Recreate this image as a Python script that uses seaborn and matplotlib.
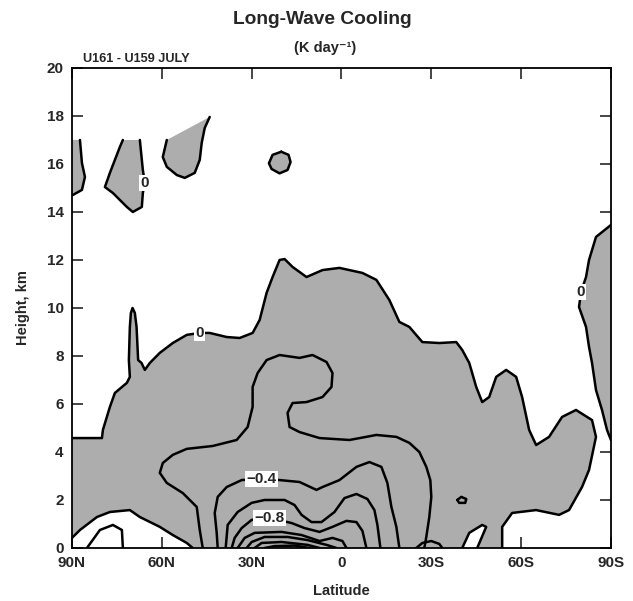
import numpy as np
import matplotlib
matplotlib.use("Agg")
import matplotlib.pyplot as plt
import seaborn as sns

# zero contour, main shaded body (upper edge, then the small white tongue, then the white lobe at bottom left)
zero_main_lat = [90, 80.0, 79.67, 77.33, 75.67, 71.67, 70.67, 71.0, 70.67, 70.33, 69.77, 69.0, 68.43, 67.9,
                 66.77, 65.67, 64.0, 60.67, 56.33, 51.67, 47.33, 44.0, 38.33, 34.0, 29.67, 27.33, 25.0, 23.0,
                 20.67, 19.0, 16.33, 11.67, 6.33, 0.67, -7.0, -11.67, -16.0, -19.33, -22.67, -27.0, -32.67,
                 -38.33, -40.33, -42.67, -45.0, -47.0, -49.33, -51.67, -55.0, -58.33, -60.33, -62.67, -65.0,
                 -69.33, -73.67, -78.33, -83.67, -85.0, -82.67, -80.33, -76.0, -72.67, -65.0, -57.0, -53.67, -53.67]
zero_main_z = [4.58, 4.58, 4.92, 5.88, 6.46, 6.88, 7.13, 7.83, 9.21, 9.79, 10.0, 9.79, 9.21, 7.83,
               7.71, 7.42, 7.71, 8.13, 8.54, 8.88, 8.96, 8.96, 8.79, 8.75, 8.96, 9.5, 10.63, 11.29,
               12.0, 12.04, 11.71, 11.29, 11.58, 11.67, 11.46, 11.17, 10.33, 9.42, 9.21, 8.58, 8.54,
               8.58, 8.25, 7.71, 6.71, 6.08, 6.29, 7.13, 7.42, 7.13, 6.29, 4.92, 4.29,
               4.63, 5.46, 5.75, 5.33, 4.63, 3.25, 2.54, 1.58, 1.38, 1.58, 1.46, 0.88, 0.0]
zero_tongue_lat = [-45.33, -48.33, -47.0, -42.67, -40.33]
zero_tongue_z = [0.0, 0.88, 0.96, 0.63, 0.0]
zero_lobe_lat = [49.67, 51.67, 56.33, 60.67, 67.33, 70.67, 77.33, 81.67, 87.33, 90]
zero_lobe_z = [0.0, 0.21, 0.54, 0.88, 1.29, 1.58, 1.5, 1.29, 0.75, 0.42]

# zero contour, strip at the south pole
zero_sp_lat = [-90, -85.0, -82.67, -81.67, -80.0, -79.33, -81.67, -82.67, -83.67, -85.0, -87.0, -88.67, -90]
zero_sp_z = [13.46, 12.96, 12.0, 11.29, 10.67, 10.04, 9.21, 8.38, 7.71, 6.58, 5.75, 4.92, 4.5]

# upper isolated patches
p1_lat = [87.33, 86.67, 85.67, 86.67, 89.67, 90]
p1_z = [17.0, 16.04, 15.46, 14.92, 14.71, 14.7]
p2_lat = [73.0, 74.0, 75.67, 77.33, 79.0, 76.33, 71.67, 69.67, 66.67, 66.33, 65.67, 66.33, 66.67, 67.33]
p2_z = [17.0, 16.71, 16.17, 15.63, 15.04, 14.79, 14.21, 14.0, 14.21, 14.79, 15.21, 15.75, 16.17, 17.0]
p3_lat = [58.33, 59.67, 58.33, 55.0, 52.33, 49.0, 47.33, 46.67, 45.67, 44.0]
p3_z = [17.0, 16.29, 15.88, 15.54, 15.42, 15.63, 16.17, 16.88, 17.5, 17.96]
p4_lat = [20.1, 17.67, 17.0, 18.0, 20.67, 23.33, 24.23, 23.0, 20.1]
p4_z = [16.51, 16.38, 16.08, 15.75, 15.61, 15.79, 16.03, 16.38, 16.51]

# negative contours (K/day)
m02_lat = [46.33, 47.33, 48.33, 53.0, 58.33, 60.67, 59.67, 56.33, 51.67, 43.0, 35.0, 31.33, 29.67, 29.67,
           28.0, 25.0, 20.67, 14.0, 9.67, 5.0, 3.0, 3.33, 6.33, 11.67, 16.33, 18.0, 17.33, 14.0, 7.33,
           -2.67, -11.67, -18.33, -22.67, -26.0, -28.33, -29.67, -30.0, -29.33, -28.33, -27.67]
m02_z = [0.0, 0.75, 1.71, 2.29, 2.71, 3.13, 3.54, 3.88, 4.13, 4.25, 4.5, 5.04, 5.88, 6.71,
         7.29, 7.83, 8.04, 7.92, 8.04, 7.75, 7.29, 6.71, 6.29, 6.08, 6.04, 5.63, 5.04, 4.83, 4.58,
         4.5, 4.71, 4.63, 4.38, 4.0, 3.38, 2.83, 2.13, 1.29, 0.46, 0.0]
m04_lat = [41.33, 41.67, 42.33, 41.33, 38.33, 33.33, 26.67, 20.67, 14.0, 8.33, 6.33, 0.67, -5.0, -9.33,
           -13.33, -15.33, -16.67, -18.33, -19.33]
m04_z = [0.0, 0.63, 1.46, 2.13, 2.54, 2.83, 2.88, 2.83, 2.75, 2.42, 2.54, 2.83, 3.38, 3.58,
         3.38, 2.71, 1.71, 0.88, 0.0]
m06_lat = [38.67, 38.0, 34.67, 30.0, 25.67, 19.0, 15.67, 13.33, 10.0, 6.67, 2.33, -1.0, -5.0, -8.67,
           -11.0, -12.0, -13.0]
m06_z = [0.0, 0.96, 1.5, 1.88, 2.0, 2.0, 1.79, 1.38, 1.08, 1.08, 1.5, 2.08, 2.25, 2.04,
         1.58, 0.96, 0.0]
m08_lat = [36.67, 35.67, 33.33, 30.0, 24.0, 16.67, 12.33, 7.33, 3.0, -1.67, -5.0, -7.0, -8.33]
m08_z = [0.0, 0.42, 0.83, 1.17, 1.25, 1.04, 0.83, 0.67, 0.88, 1.13, 1.08, 0.71, 0.0]
m10_lat = [34.67, 32.33, 29.0, 20.0, 13.33, 7.33, 3.0, -0.33, -1.67]
m10_z = [0.0, 0.42, 0.63, 0.67, 0.54, 0.29, 0.42, 0.29, 0.0]
m12_lat = [31.67, 30.0, 25.67, 18.0, 11.33, 5.0, 1.67]
m12_z = [0.0, 0.25, 0.46, 0.46, 0.33, 0.13, 0.0]
m14_lat = [29.0, 26.67, 20.0, 11.33, 7.33]
m14_z = [0.0, 0.21, 0.25, 0.13, 0.0]
m16_lat = [25.67, 22.33, 15.67, 10.67]
m16_z = [0.0, 0.08, 0.1, 0.0]

# small closed / positive pieces
s1_lat = [85.0, 80.67, 76.33, 73.33, 73.0]
s1_z = [0.0, 0.75, 0.96, 0.75, 0.0]
s2_lat = [-25.0, -27.0, -30.0, -32.67, -33.67]
s2_z = [0.0, 0.21, 0.29, 0.17, 0.0]
s3_lat = [-38.67, -40.0, -41.67, -41.33, -39.33, -38.67]
s3_z = [2.0, 2.13, 2.04, 1.88, 1.88, 2.0]

# contour labels
lab_text = ["0", "0", "0", "\u22120.4", "\u22120.8"]
lab_lat = [65.7, 47.3, -80.0, 26.7, 24.0]
lab_z = [15.2, 8.96, 10.67, 2.88, 1.25]

lat_ticks = [90, 60, 30, 0, -30, -60, -90]
lat_labels = ["90N", "60N", "30N", "0", "30S", "60S", "90S"]
z_ticks = list(range(0, 21, 2))

sns.set_theme(style="ticks")
plt.rcParams["font.family"] = ["Liberation Sans", "DejaVu Sans"]
plt.rcParams["font.weight"] = "bold"

fig = plt.figure(figsize=(6.33, 6.01), dpi=100)
ax = fig.add_axes([0.1137, 0.0882, 0.8515, 0.7987])

shade = "#adadad"
lw = 1.8

# shaded (negative) areas
poly_lat = zero_main_lat + zero_tongue_lat + zero_lobe_lat
poly_z = zero_main_z + zero_tongue_z + zero_lobe_z
ax.fill(poly_lat, poly_z, color=shade, lw=0, zorder=1)
ax.fill(zero_sp_lat + [-90], zero_sp_z + [13.46], color=shade, lw=0, zorder=1)
ax.fill(p1_lat + [90], p1_z + [17.0], color=shade, lw=0, zorder=1)
ax.fill(p2_lat, p2_z, color=shade, lw=0, zorder=1)
ax.fill(p3_lat, p3_z, color=shade, lw=0, zorder=1)
ax.fill(p4_lat, p4_z, color=shade, lw=0, zorder=1)

lines = [
    (zero_main_lat, zero_main_z), (zero_tongue_lat, zero_tongue_z), (zero_lobe_lat, zero_lobe_z),
    (zero_sp_lat, zero_sp_z), (p1_lat, p1_z), (p2_lat, p2_z), (p3_lat, p3_z), (p4_lat, p4_z),
    (m02_lat, m02_z), (m04_lat, m04_z), (m06_lat, m06_z), (m08_lat, m08_z),
    (m10_lat, m10_z), (m12_lat, m12_z), (m14_lat, m14_z), (m16_lat, m16_z),
    (s1_lat, s1_z), (s2_lat, s2_z), (s3_lat, s3_z),
]
for la, zz in lines:
    sns.lineplot(x=la, y=zz, sort=False, estimator=None, color="black", lw=lw, ax=ax, zorder=3,
                 solid_joinstyle="round", solid_capstyle="round")

for t, la, zz in zip(lab_text, lab_lat, lab_z):
    ax.text(la, zz, t, ha="center", va="center", fontsize=11, fontweight="bold", zorder=5,
            bbox=dict(boxstyle="square,pad=0.08", fc="white", ec="none"))

ax.set_xlim(90, -90)
ax.set_ylim(0, 20)
ax.set_xticks(lat_ticks)
ax.set_xticklabels(lat_labels)
ax.set_yticks(z_ticks)
ax.tick_params(direction="in", length=8, width=1.2, labelsize=11, pad=6,
               top=True, right=True)
for s in ax.spines.values():
    s.set_linewidth(1.3)
    s.set_color("black")
ax.set_xlabel("Latitude", fontsize=10.5, fontweight="bold", labelpad=10)
ax.set_ylabel("Height, km", fontsize=10.5, fontweight="bold", labelpad=12)

fig.text(0.509, 1 - 20 / 601, "Long-Wave Cooling", ha="center", va="center", fontsize=13.8, fontweight="bold")
fig.text(0.513, 1 - 48 / 601, "(K day\u207b\u00b9)", ha="center", va="center", fontsize=10.5, fontweight="bold")
fig.text(0.131, 1 - 59 / 601, "U161 - U159 JULY", ha="left", va="center", fontsize=9.2, fontweight="bold")

fig.savefig("out.png", dpi=100)
